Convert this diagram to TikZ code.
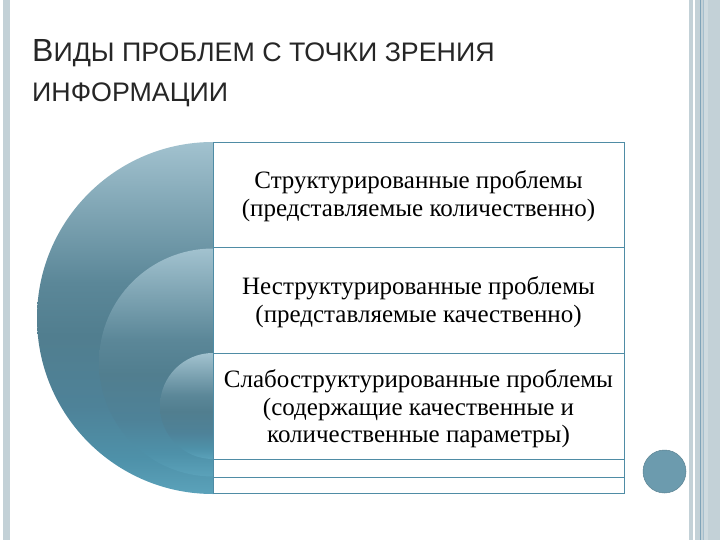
\documentclass[tikz,border=0pt]{standalone}
\usepackage{fontspec}
\setmainfont{Liberation Serif}
\newfontfamily\titlefont{Liberation Sans}
\definecolor{stripgray}{HTML}{C3D1D7}
\definecolor{stripline}{HTML}{7FA3B8}
\definecolor{tblline}{HTML}{4F8CA5}
\definecolor{dotc}{HTML}{6C9BAE}
\definecolor{titlec}{HTML}{262626}
\definecolor{sA}{HTML}{A2C2CF}
\definecolor{sB}{HTML}{7EA4B3}
\definecolor{sC}{HTML}{5B8798}
\definecolor{sD}{HTML}{517E8F}
\definecolor{sE}{HTML}{4E8298}
\definecolor{sF}{HTML}{4E91A9}
\definecolor{sG}{HTML}{5BA2BA}
\pgfdeclareverticalshading{discshade}{100bp}{color(0bp)=(sG); color(25bp)=(sG); color(30bp)=(sF); color(37.5bp)=(sE); color(47.5bp)=(sD); color(55bp)=(sC); color(65bp)=(sB); color(75bp)=(sA); color(100bp)=(sA)}
\tikzset{
  disc/.style={shading=discshade, draw=none},
  rowbox/.style={fill=white, draw=tblline, line width=0.8pt},
  rowtext/.style={align=center, font=\fontsize{25}{27.7}\selectfont, text=black, inner sep=0pt},
  titletext/.style={anchor=base west, inner sep=0pt, text=titlec, font=\titlefont}
}
\begin{document}
\begin{tikzpicture}[x=1pt,y=-1pt]
\useasboundingbox (0,0) rectangle (720,540);
\fill[white] (0,0) rectangle (720,540);
% side strips
\fill[stripgray] (2.5,0) rectangle (9.5,540);
\fill[stripgray] (689,0) rectangle (720,540);
\fill[white] (692.8,0) rectangle (695.2,540);
\draw[stripline, line width=1pt] (700.5,0) -- (700.5,540);
\draw[stripline!70!white, line width=0.8pt] (703,0) -- (703,540);
\fill[stripgray!80!white] (704,0) rectangle (708,540);
% title
\node[titletext] (title1) at (32,62) {\fontsize{32}{35}\selectfont В\fontsize{26.8}{29}\selectfont ИДЫ ПРОБЛЕМ С ТОЧКИ ЗРЕНИЯ};
\node[titletext] (title2) at (32,101.5) {\fontsize{26.8}{29}\selectfont ИНФОРМАЦИИ};
% discs
\shade[disc] (213,318) circle[radius=176pt];
\shade[disc] (213,362.5) circle[radius=114pt];
\shade[disc] (213,406) circle[radius=53pt];
% boxes
\node[rowbox, minimum width=411pt, minimum height=351pt, inner sep=0pt] (box1) at (418.5,317.5) {};
\node[rowbox, minimum width=411pt, minimum height=230pt, inner sep=0pt] (box2) at (418.5,362) {};
\node[rowbox, minimum width=411pt, minimum height=106pt, inner sep=0pt] (box3) at (418.5,406) {};
% texts
\node[rowtext] (t1) at (418.5,196) {Структурированные проблемы\\(представляемые количественно)};
\node[rowtext] (t2) at (418.5,302) {Неструктурированные проблемы\\(представляемые качественно)};
\node[rowtext] (t3) at (418.5,409) {Слабоструктурированные проблемы\\(содержащие качественные и\\количественные параметры)};
% dot
\filldraw[fill=dotc, draw=dotc!85!black, line width=0.5pt] (664.5,471.5) circle[radius=21.5pt];
\node[inner sep=0pt] (dot) at (664.5,471.5) {};
\end{tikzpicture}
\end{document}
